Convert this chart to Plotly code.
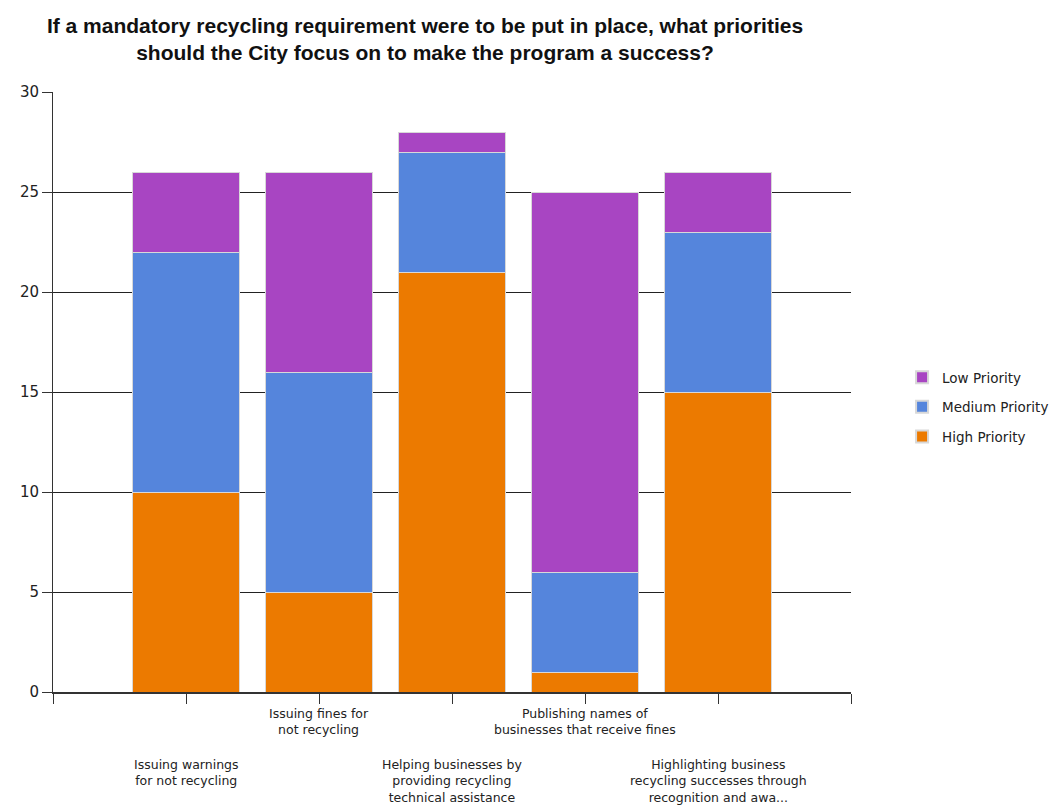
import plotly.graph_objects as go

# Survey responses per proposed priority
categories = [
    "Issuing warnings<br>for not recycling",
    "Issuing fines for<br>not recycling",
    "Helping businesses by<br>providing recycling<br>technical assistance",
    "Publishing names of<br>businesses that receive fines",
    "Highlighting business<br>recycling successes through<br>recognition and awa...",
]
positions = [1, 2, 3, 4, 5]
high_priority = [10, 5, 21, 1, 15]
medium_priority = [12, 11, 6, 5, 8]
low_priority = [4, 10, 1, 19, 3]

# (name, values, colour, legend rank) — stacked bottom to top, listed top to bottom
series = [
    ("High Priority", high_priority, "#EC7A00", 3),
    ("Medium Priority", medium_priority, "#5585DC", 2),
    ("Low Priority", low_priority, "#A845C2", 1),
]

LABEL_FONT = "DejaVu Sans, Verdana, sans-serif"

fig = go.Figure()
for name, vals, color, rank in series:
    fig.add_trace(go.Bar(
        x=positions, y=vals, name=name, width=0.8,
        legendgroup=name, legendrank=rank,
        marker=dict(color=color, line=dict(color="#D8D8D8", width=1)),
    ))

# Staggered category labels under the axis
for i, (pos, label) in enumerate(zip(positions, categories)):
    lower = i % 2 == 0
    fig.add_annotation(
        x=pos, xref="x", y=0, yref="paper",
        text=label, showarrow=False, xanchor="center", yanchor="top",
        yshift=-63 if lower else -12,
        font=dict(family=LABEL_FONT, size=12.5, color="#222"),
    )

fig.update_layout(
    width=1058, height=808,
    barmode="stack",
    plot_bgcolor="white", paper_bgcolor="white",
    margin=dict(l=53, r=207, t=92, b=116, autoexpand=False),
    title=dict(
        text="If a mandatory recycling requirement were to be put in place, what priorities<br>should the City focus on to make the program a success?",
        x=425 / 1058, xanchor="center", xref="container",
        y=1 - 33 / 808, yanchor="middle", yref="container",
        font=dict(family="Liberation Sans, Arial, sans-serif", size=21, color="#111", weight="bold"),
    ),
    legend=dict(
        traceorder="grouped", x=1.064, xanchor="left", y=0.475, yanchor="middle",
        font=dict(family=LABEL_FONT, size=13.5, color="#222"),
        itemsizing="constant", tracegroupgap=9, itemwidth=30,
    ),
    xaxis=dict(
        range=[0, 6], tickvals=[0, 1, 2, 3, 4, 5, 6], ticktext=[""] * 7,
        ticks="outside", ticklen=10, tickcolor="#333", showgrid=False,
        showline=True, linecolor="#333", linewidth=2, zeroline=False, fixedrange=True,
    ),
    yaxis=dict(
        range=[0, 30], dtick=5, ticks="outside", ticklen=10, tickcolor="#333",
        showgrid=True, gridcolor="#222", gridwidth=1,
        showline=True, linecolor="#333", linewidth=1, zeroline=False,
        tickfont=dict(family=LABEL_FONT, size=15, color="#222"),
    ),
    bargap=0.2,
)

fig.write_html("out.html")
